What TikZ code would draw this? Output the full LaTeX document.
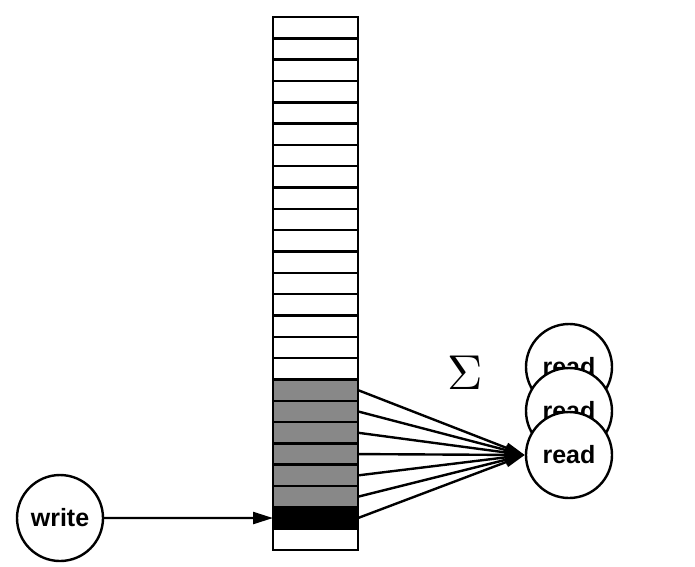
\documentclass[tikz,border=0pt]{standalone}
\usepackage{fontspec}
\newfontfamily\labfont{Liberation Sans}
\usetikzlibrary{arrows.meta}
\definecolor{cellgray}{RGB}{136,136,136}
\begin{document}
\begin{tikzpicture}[x=1pt,y=-1pt,
  cell/.style={draw, line width=2.5pt, minimum width=85pt, minimum height=21.32pt, inner sep=0pt, outer sep=0pt, anchor=center},
  circ/.style={circle, draw, fill=white, line width=2.4pt, minimum size=86pt, inner sep=0pt, font=\labfont\bfseries\fontsize{25}{30}\selectfont},
  fan/.style={line width=2.4pt, -{Triangle[length=20pt,width=10pt]}},
  wline/.style={line width=2.4pt, -{Triangle[length=20pt,width=12pt]}}]
\useasboundingbox (0,0) rectangle (695,566);
\foreach \i in {0,...,24}{
  \pgfmathsetmacro\cy{17+(\i+0.5)*21.32}
  \ifnum\i<17 \def\fc{white}\else\ifnum\i<23 \def\fc{cellgray}\else\ifnum\i=23 \def\fc{black}\else\def\fc{white}\fi\fi\fi
  \node[cell, fill=\fc] (c\i) at (315.5,\cy) {};
}
\node[circ] (r1) at (569,367) {read};
\node[circ] (r2) at (569,411) {read};
\node[circ] (r3) at (569,455) {read};
\foreach \i in {17,...,23} \draw[fan] (c\i.east) -- (r3.west);
\node[circ] (w) at (60,518) {write};
\draw[wline] (w.east) -- (c23.west);
\node[scale=4.9, inner sep=0pt] (sig) at (465,373) {$\Sigma$};
\end{tikzpicture}
\end{document}
